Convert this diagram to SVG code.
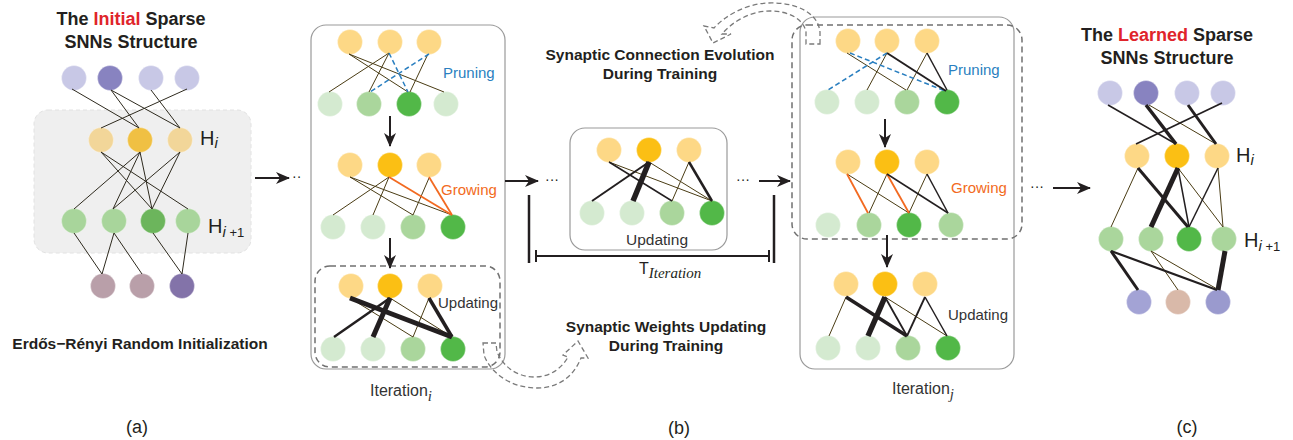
<svg xmlns="http://www.w3.org/2000/svg" width="1293" height="440" viewBox="0 0 1293 440">
<style>
text{font-family:"Liberation Sans",Arial,sans-serif;fill:#231f20}
.b{font-weight:bold}
.red{fill:#e0242b}
.it{font-family:"Liberation Serif","Times New Roman",serif;font-style:italic}
.si{font-style:italic}
.box{fill:#fff;stroke:#9a9a9a;stroke-width:1.2}
.dbox{fill:none;stroke:#707070;stroke-width:1.5;stroke-dasharray:6 4}
.carrow{fill:none;stroke:#7a7a7a;stroke-width:1.3;stroke-dasharray:5 3}
.o{stroke:#4a3c14;stroke-width:1;fill:none}
.d{stroke:#231f20;fill:none}
.pr{stroke:#2a7fc0;stroke-width:1.5;stroke-dasharray:5 3;fill:none}
.gr{stroke:#f26a21;stroke-width:1.8;fill:none}
.ar{stroke:#231f20;stroke-width:2;fill:none;marker-end:url(#ah)}
.br{stroke:#231f20;stroke-width:2.5;fill:none}
.lav{fill:#c8c8e6}.pur{fill:#8883c0}.aY{fill:#f2d699}.aYD{fill:#f0c043}.aG{fill:#a8d59b}.aGD{fill:#6cb55c}
.mau{fill:#b99fa9}.pB{fill:#8373a9}
.yl{fill:#fdd886}.yd{fill:#fbbf14}.gl{fill:#d4ead0}.gm{fill:#aad69c}.gd{fill:#52b848}
.cb1{fill:#a3a3d5}.cb2{fill:#d9b9a9}.cb3{fill:#9a9ace}
circle{stroke:#ffffff;stroke-opacity:0.35;stroke-width:1}
.lbl{font-size:15px}
</style>
<defs>
<marker id="ah" markerWidth="14" markerHeight="12" refX="13" refY="6" orient="auto" markerUnits="userSpaceOnUse"><path d="M0,0 L14,6 L0,12 L4,6 z" fill="#231f20"/></marker>
</defs>

<!-- Panel (a) -->
<g id="a-title"><text class="b" x="131" y="25" font-size="18" text-anchor="middle">The <tspan class="red">Initial</tspan> Sparse</text><text class="b" x="131" y="48" font-size="18" text-anchor="middle">SNNs Structure</text></g>
<rect id="a-bg" x="34" y="110" width="217" height="143" rx="14" fill="#efefef" stroke="#e2e2e2" stroke-dasharray="4 3"/>
<g id="a-nodes">
<g id="a-in1"><circle class="lav" cx="74" cy="78" r="12.5"/></g>
<g id="a-in2"><circle class="pur" cx="110" cy="78" r="12.5"/></g>
<g id="a-in3"><circle class="lav" cx="151" cy="78" r="12.5"/></g>
<g id="a-in4"><circle class="lav" cx="187" cy="78" r="12.5"/></g>
<g id="a-h1"><circle class="aY" cx="101" cy="140" r="12.5"/></g>
<g id="a-h2"><circle class="aYD" cx="140" cy="140" r="12.5"/></g>
<g id="a-h3"><circle class="aY" cx="180" cy="140" r="12.5"/></g>
<g id="a-g1"><circle class="aG" cx="74" cy="221" r="12.5"/></g>
<g id="a-g2"><circle class="aG" cx="114" cy="221" r="12.5"/></g>
<g id="a-g3"><circle class="aGD" cx="153" cy="221" r="12.5"/></g>
<g id="a-g4"><circle class="aG" cx="188" cy="221" r="12.5"/></g>
<g id="a-o1"><circle class="mau" cx="103" cy="286" r="12.5"/></g>
<g id="a-o2"><circle class="mau" cx="142" cy="286" r="12.5"/></g>
<g id="a-o3"><circle class="pB" cx="182" cy="286" r="12.5"/></g>
</g>
<g id="a-labels">
<text x="200" y="145" font-size="20">H<tspan class="si" font-size="15" dy="3">i</tspan></text>
<text x="208" y="233" font-size="20">H<tspan class="si" font-size="15" dy="4">i</tspan><tspan font-size="13"> +1</tspan></text>
<text class="b" x="140" y="349" font-size="15.5" text-anchor="middle">Erdős−Rényi Random Initialization</text>
<text x="137" y="433" font-size="18" text-anchor="middle">(a)</text>
</g>

<!-- Panel (b) boxes -->
<g id="iter-i">
<rect class="box" x="311" y="25" width="194" height="344" rx="15"/>
<rect class="dbox" x="315" y="266" width="185" height="101" rx="15"/>
<text class="lbl" x="443" y="78" style="fill:#2a7fc0">Pruning</text>
<text class="lbl" x="441" y="195" style="fill:#f26a21">Growing</text>
<text class="lbl" x="438" y="308" style="fill:#333">Updating</text>
<text x="370" y="396" font-size="16" style="fill:#333">Iteration<tspan class="it" font-size="15" dy="5">i</tspan></text>
</g>
<g id="iter-mid">
<rect class="box" x="570" y="128" width="157" height="122" rx="15"/>
<text x="657" y="245" font-size="15.5" text-anchor="middle" style="fill:#333">Updating</text>
</g>
<g id="iter-j">
<rect class="box" x="800" y="17" width="214" height="352" rx="15"/>
<rect class="dbox" x="792" y="25" width="230" height="214" rx="15"/>
<text class="lbl" x="948" y="75" style="fill:#2a7fc0">Pruning</text>
<text class="lbl" x="951" y="193" style="fill:#f26a21">Growing</text>
<text class="lbl" x="948" y="320" style="fill:#333">Updating</text>
<text x="892" y="394" font-size="16" style="fill:#333">Iteration<tspan class="it" font-size="15" dy="5">j</tspan></text>
</g>

<!-- Iteration i nodes -->
<g id="i-nodes">
<g id="ip-t1"><circle class="yl" cx="350" cy="42" r="12.5"/></g>
<g id="ip-t2"><circle class="yl" cx="390" cy="42" r="12.5"/></g>
<g id="ip-t3"><circle class="yl" cx="429" cy="42" r="12.5"/></g>
<g id="ip-b1"><circle class="gl" cx="330" cy="104" r="12.5"/></g>
<g id="ip-b2"><circle class="gm" cx="369" cy="104" r="12.5"/></g>
<g id="ip-b3"><circle class="gd" cx="409" cy="104" r="12.5"/></g>
<g id="ip-b4"><circle class="gl" cx="446" cy="104" r="12.5"/></g>
<g id="ig-t1"><circle class="yl" cx="350" cy="165" r="12.5"/></g>
<g id="ig-t2"><circle class="yd" cx="390" cy="165" r="12.5"/></g>
<g id="ig-t3"><circle class="yl" cx="429" cy="165" r="12.5"/></g>
<g id="ig-b1"><circle class="gl" cx="333" cy="227" r="12.5"/></g>
<g id="ig-b2"><circle class="gl" cx="373" cy="227" r="12.5"/></g>
<g id="ig-b3"><circle class="gm" cx="413" cy="227" r="12.5"/></g>
<g id="ig-b4"><circle class="gd" cx="453" cy="227" r="12.5"/></g>
<g id="iu-t1"><circle class="yl" cx="351" cy="286" r="12.5"/></g>
<g id="iu-t2"><circle class="yd" cx="390" cy="286" r="12.5"/></g>
<g id="iu-t3"><circle class="yl" cx="430" cy="286" r="12.5"/></g>
<g id="iu-b1"><circle class="gl" cx="333" cy="349" r="12.5"/></g>
<g id="iu-b2"><circle class="gl" cx="373" cy="349" r="12.5"/></g>
<g id="iu-b3"><circle class="gm" cx="413" cy="349" r="12.5"/></g>
<g id="iu-b4"><circle class="gd" cx="453" cy="349" r="12.5"/></g>
</g>

<!-- Middle nodes -->
<g id="m-nodes">
<g id="m-t1"><circle class="yl" cx="609" cy="150" r="12.5"/></g>
<g id="m-t2"><circle class="yd" cx="649" cy="150" r="12.5"/></g>
<g id="m-t3"><circle class="yl" cx="689" cy="150" r="12.5"/></g>
<g id="m-b1"><circle class="gl" cx="592" cy="213" r="12.5"/></g>
<g id="m-b2"><circle class="gl" cx="632" cy="213" r="12.5"/></g>
<g id="m-b3"><circle class="gm" cx="672" cy="213" r="12.5"/></g>
<g id="m-b4"><circle class="gd" cx="712" cy="213" r="12.5"/></g>
</g>

<!-- Iteration j nodes -->
<g id="j-nodes">
<g id="jp-t1"><circle class="yl" cx="848" cy="41" r="12.5"/></g>
<g id="jp-t2"><circle class="yl" cx="887" cy="41" r="12.5"/></g>
<g id="jp-t3"><circle class="yl" cx="927" cy="41" r="12.5"/></g>
<g id="jp-b1"><circle class="gl" cx="827" cy="102" r="12.5"/></g>
<g id="jp-b2"><circle class="gl" cx="867" cy="102" r="12.5"/></g>
<g id="jp-b3"><circle class="gm" cx="907" cy="102" r="12.5"/></g>
<g id="jp-b4"><circle class="gd" cx="947" cy="102" r="12.5"/></g>
<g id="jg-t1"><circle class="yl" cx="848" cy="162" r="12.5"/></g>
<g id="jg-t2"><circle class="yd" cx="887" cy="162" r="12.5"/></g>
<g id="jg-t3"><circle class="yl" cx="927" cy="162" r="12.5"/></g>
<g id="jg-b1"><circle class="gl" cx="828" cy="225" r="12.5"/></g>
<g id="jg-b2"><circle class="gm" cx="869" cy="225" r="12.5"/></g>
<g id="jg-b3"><circle class="gd" cx="909" cy="225" r="12.5"/></g>
<g id="jg-b4"><circle class="gm" cx="951" cy="225" r="12.5"/></g>
<g id="ju-t1"><circle class="yl" cx="846" cy="284" r="12.5"/></g>
<g id="ju-t2"><circle class="yd" cx="885" cy="284" r="12.5"/></g>
<g id="ju-t3"><circle class="yl" cx="925" cy="284" r="12.5"/></g>
<g id="ju-b1"><circle class="gl" cx="828" cy="348" r="12.5"/></g>
<g id="ju-b2"><circle class="gl" cx="868" cy="348" r="12.5"/></g>
<g id="ju-b3"><circle class="gm" cx="908" cy="348" r="12.5"/></g>
<g id="ju-b4"><circle class="gd" cx="948" cy="348" r="12.5"/></g>
</g>

<!-- Panel (c) -->
<g id="c-title"><text class="b" x="1167" y="41" font-size="18" text-anchor="middle">The <tspan class="red">Learned</tspan> Sparse</text><text class="b" x="1167" y="64" font-size="18" text-anchor="middle">SNNs Structure</text></g>
<g id="c-nodes">
<g id="c-in1"><circle class="lav" cx="1110" cy="93" r="12.5"/></g>
<g id="c-in2"><circle class="pur" cx="1146" cy="93" r="12.5"/></g>
<g id="c-in3"><circle class="lav" cx="1187" cy="93" r="12.5"/></g>
<g id="c-in4"><circle class="lav" cx="1223" cy="93" r="12.5"/></g>
<g id="c-h1"><circle class="yl" cx="1137" cy="156" r="12.5"/></g>
<g id="c-h2"><circle class="yd" cx="1177" cy="156" r="12.5"/></g>
<g id="c-h3"><circle class="yl" cx="1217" cy="156" r="12.5"/></g>
<g id="c-g1"><circle class="gm" cx="1111" cy="239" r="12.5"/></g>
<g id="c-g2"><circle class="gm" cx="1151" cy="239" r="12.5"/></g>
<g id="c-g3"><circle class="gd" cx="1189" cy="239" r="12.5"/></g>
<g id="c-g4"><circle class="gm" cx="1224" cy="239" r="12.5"/></g>
<g id="c-o1"><circle class="cb1" cx="1139" cy="302" r="12.5"/></g>
<g id="c-o2"><circle class="cb2" cx="1178" cy="302" r="12.5"/></g>
<g id="c-o3"><circle class="cb3" cx="1218" cy="302" r="12.5"/></g>
</g>
<g id="c-labels">
<text x="1236" y="162" font-size="20">H<tspan class="si" font-size="15" dy="3">i</tspan></text>
<text x="1244" y="247" font-size="20">H<tspan class="si" font-size="15" dy="4">i</tspan><tspan font-size="13"> +1</tspan></text>
<text x="1187" y="433" font-size="18" text-anchor="middle">(c)</text>
</g>

<!-- Panel (b) texts -->
<g id="b-labels">
<text class="b" x="660" y="60" font-size="15.5" text-anchor="middle">Synaptic Connection Evolution</text>
<text class="b" x="660" y="79" font-size="15.5" text-anchor="middle">During Training</text>
<text class="b" x="666" y="332" font-size="15.5" text-anchor="middle">Synaptic Weights Updating</text>
<text class="b" x="666" y="351" font-size="15.5" text-anchor="middle">During Training</text>
<text x="679" y="434" font-size="18" text-anchor="middle">(b)</text>
<text x="639" y="274" font-size="16">T<tspan class="it" font-size="15" dy="4">Iteration</tspan></text>
<text x="292" y="181" font-size="14">··</text>
<text x="545" y="184" font-size="14">···</text>
<text x="736" y="184" font-size="14">···</text>
<text x="1030" y="191" font-size="14">···</text>
</g>

<!-- Connectors -->
<g id="connectors">
<!-- (a) -->
<g class="d" stroke-width="1" style="stroke:#2e2a1e">
<line x1="72" y1="89" x2="139" y2="128"/><line x1="111" y1="90" x2="139" y2="128"/><line x1="111" y1="90" x2="180" y2="128"/><line x1="151" y1="90" x2="180" y2="128"/><line x1="187" y1="89" x2="101" y2="128"/>
<line x1="101" y1="152" x2="152" y2="209"/><line x1="101" y1="152" x2="188" y2="209"/><line x1="140" y1="152" x2="74" y2="209"/><line x1="140" y1="152" x2="113" y2="209"/><line x1="140" y1="152" x2="152" y2="209"/><line x1="180" y1="152" x2="113" y2="209"/><line x1="180" y1="152" x2="152" y2="209"/>
<line x1="74" y1="233" x2="102" y2="274"/><line x1="114" y1="233" x2="102" y2="274"/><line x1="114" y1="233" x2="142" y2="274"/><line x1="153" y1="233" x2="182" y2="274"/><line x1="188" y1="233" x2="182" y2="274"/>
</g>
<!-- iteration i pruning -->
<line class="o" x1="349" y1="54" x2="408" y2="92"/><line class="o" x1="349" y1="54" x2="444" y2="92"/><line class="o" x1="389" y1="53" x2="329" y2="92"/><line class="o" x1="389" y1="53" x2="369" y2="92"/><line class="o" x1="428" y1="54" x2="410" y2="92"/>
<line class="pr" x1="389" y1="53" x2="408" y2="92"/><line class="pr" x1="429" y1="54" x2="370" y2="92"/>
<!-- iteration i growing -->
<line class="o" x1="350" y1="177" x2="413" y2="215"/><line class="o" x1="350" y1="177" x2="452" y2="215"/><line class="o" x1="389" y1="177" x2="333" y2="215"/><line class="o" x1="389" y1="177" x2="373" y2="215"/><line class="o" x1="429" y1="178" x2="413" y2="215"/>
<line class="gr" x1="389" y1="177" x2="452" y2="215"/><line class="gr" x1="429" y1="177" x2="452" y2="215"/>
<!-- iteration i updating -->
<line class="o" x1="350" y1="298" x2="413" y2="337"/><line class="o" x1="390" y1="298" x2="452" y2="337"/><line class="o" x1="429" y1="298" x2="413" y2="337"/>
<line class="d" stroke-width="5" x1="350" y1="298" x2="452" y2="337"/><line class="d" stroke-width="2.5" x1="390" y1="298" x2="334" y2="337"/><line class="d" stroke-width="5" x1="390" y1="298" x2="373" y2="337"/><line class="d" stroke-width="3.5" x1="429" y1="298" x2="452" y2="337"/>
<!-- middle -->
<line class="o" x1="609" y1="162" x2="712" y2="201"/><line class="o" x1="649" y1="162" x2="712" y2="201"/><line class="o" x1="689" y1="162" x2="672" y2="201"/>
<line class="d" stroke-width="1.5" x1="609" y1="162" x2="672" y2="201"/><line class="d" stroke-width="2" x1="649" y1="162" x2="592" y2="201"/><line class="d" stroke-width="5.5" x1="649" y1="162" x2="633" y2="201"/><line class="d" stroke-width="2.5" x1="689" y1="162" x2="712" y2="201"/>
<!-- iteration j pruning -->
<line class="o" x1="847" y1="53" x2="906" y2="90"/><line class="o" x1="887" y1="53" x2="867" y2="90"/><line class="o" x1="927" y1="53" x2="907" y2="90"/>
<line class="pr" x1="850" y1="53" x2="945" y2="91"/><line class="pr" x1="887" y1="53" x2="828" y2="90"/>
<line class="d" stroke-width="2" x1="887" y1="53" x2="946" y2="91"/><line class="d" stroke-width="1.5" x1="927" y1="53" x2="947" y2="90"/>
<!-- iteration j growing -->
<line class="o" x1="847" y1="174" x2="909" y2="213"/><line class="o" x1="887" y1="174" x2="869" y2="213"/><line class="o" x1="927" y1="174" x2="909" y2="213"/>
<line class="gr" x1="847" y1="174" x2="868" y2="213"/><line class="gr" x1="887" y1="174" x2="909" y2="213"/>
<line class="d" stroke-width="1.5" x1="887" y1="174" x2="948" y2="213"/><line class="d" stroke-width="1.5" x1="927" y1="174" x2="948" y2="213"/>
<!-- iteration j updating -->
<line class="o" x1="846" y1="297" x2="829" y2="336"/><line class="o" x1="885" y1="297" x2="947" y2="336"/>
<line class="d" stroke-width="3.5" x1="846" y1="297" x2="907" y2="336"/><line class="d" stroke-width="5.5" x1="885" y1="297" x2="868" y2="336"/><line class="d" stroke-width="1.8" x1="885" y1="297" x2="907" y2="336"/><line class="d" stroke-width="1.8" x1="925" y1="297" x2="907" y2="336"/><line class="d" stroke-width="1.5" x1="925" y1="297" x2="947" y2="336"/>
<!-- (c) -->
<line class="o" x1="1149" y1="105" x2="1216" y2="144"/><line class="o" x1="1138" y1="168" x2="1111" y2="227"/><line class="o" x1="1178" y1="168" x2="1223" y2="227"/><line class="o" x1="1218" y1="168" x2="1223" y2="227"/><line class="o" x1="1151" y1="251" x2="1178" y2="290"/><line class="o" x1="1151" y1="251" x2="1217" y2="289"/>
<line class="d" stroke-width="1.5" x1="1108" y1="105" x2="1176" y2="144"/><line class="d" stroke-width="3.5" x1="1146" y1="105" x2="1176" y2="144"/><line class="d" stroke-width="3" x1="1188" y1="105" x2="1216" y2="144"/><line class="d" stroke-width="1.8" x1="1222" y1="103" x2="1136" y2="144"/>
<line class="d" stroke-width="3" x1="1138" y1="168" x2="1188" y2="227"/><line class="d" stroke-width="5" x1="1178" y1="168" x2="1151" y2="227"/><line class="d" stroke-width="1.5" x1="1178" y1="168" x2="1189" y2="227"/><line class="d" stroke-width="1.5" x1="1218" y1="168" x2="1189" y2="227"/>
<line class="d" stroke-width="3" x1="1111" y1="251" x2="1138" y2="290"/><line class="d" stroke-width="2.2" x1="1111" y1="251" x2="1217" y2="290"/><line class="d" stroke-width="5" x1="1225" y1="251" x2="1218" y2="290"/>
<!-- arrows -->
<line class="ar" x1="255" y1="178" x2="289" y2="178"/>
<line class="ar" x1="505" y1="181" x2="538" y2="181"/>
<line class="ar" x1="759" y1="181" x2="790" y2="181"/>
<line class="ar" x1="1053" y1="188" x2="1090" y2="188"/>
<line class="ar" x1="390" y1="116" x2="390" y2="146"/>
<line class="ar" x1="390" y1="238" x2="390" y2="268"/>
<line class="ar" x1="885" y1="119" x2="885" y2="147"/>
<line class="ar" x1="887" y1="235" x2="887" y2="267"/>
<!-- T iteration bracket -->
<line class="br" x1="529" y1="195" x2="529" y2="263"/>
<line class="br" x1="774" y1="195" x2="774" y2="263"/>
<line class="d" stroke-width="2" x1="536" y1="256" x2="769" y2="256"/>
<line class="d" stroke-width="2" x1="536" y1="250" x2="536" y2="262"/>
<line class="d" stroke-width="2" x1="769" y1="250" x2="769" y2="262"/>
<!-- curved hollow arrows -->
<path class="carrow" d="M 820,44 L 820,32 C 818,12 795,2 768,3 C 745,4 725,16 714,28 L 704,26 L 713,43 L 731,34 L 722,34 C 732,22 750,11 770,11 C 790,11 804,20 806,32 L 806,44 Z"/>
<path class="carrow" d="M 483,343 L 496,343 L 497,352 C 505,370 520,377 535,377 C 550,377 562,368 568,357 L 563,355 L 578,341 L 588,358 L 581,358 C 573,378 557,388 537,388 C 510,388 490,372 484,355 Z"/>
</g>
</svg>
